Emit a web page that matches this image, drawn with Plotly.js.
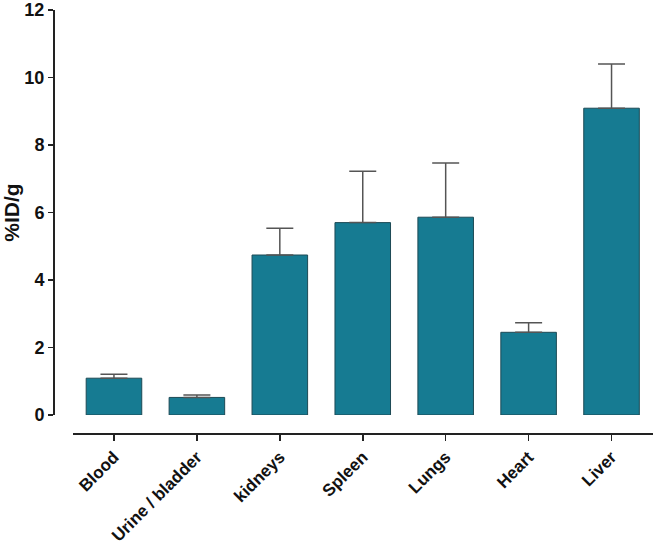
<!DOCTYPE html>
<html>
<head>
<meta charset="utf-8">
<script src="https://cdn.plot.ly/plotly-3.0.1.min.js"></script>
<style>html,body{margin:0;padding:0;background:#fff;}#chart{width:653px;height:547px;}</style>
</head>
<body>
<div id="chart"></div>
<script>
var categories = ["Blood", "Urine / bladder", "kidneys", "Spleen", "Lungs", "Heart", "Liver"];
var means = [1.09, 0.52, 4.74, 5.70, 5.86, 2.45, 9.09];
var errorsUp = [0.12, 0.07, 0.79, 1.52, 1.61, 0.28, 1.31];
var yTickVals = [0, 2, 4, 6, 8, 10, 12];

var trace = {
  type: "bar",
  x: categories,
  y: means,
  width: 0.67,
  marker: {color: "#167b92", line: {color: "#1d4a55", width: 1}},
  error_y: {type: "data", array: errorsUp, arrayminus: errorsUp.map(function(){return 0;}), symmetric: false,
            color: "#555555", thickness: 1.5, width: 13.5},
  hoverinfo: "skip"
};

var fam = "Liberation Sans, Arial, sans-serif";

var layout = {
  width: 653, height: 547,
  margin: {l: 53, r: 0, t: 10, b: 114},
  paper_bgcolor: "#fff", plot_bgcolor: "#fff",
  showlegend: false,
  font: {family: fam, color: "#111", size: 18},
  xaxis: {
    domain: [0.0325, 1],
    anchor: "free", position: 0,
    range: [-0.5, 6.5],
    showline: true, linecolor: "#222", linewidth: 1.5,
    ticks: "outside", ticklen: 6, tickwidth: 1.5, tickcolor: "#222",
    tickangle: -45,
    tickfont: {family: fam, size: 17, weight: "bold", color: "#111"},
    showgrid: false, zeroline: false, fixedrange: true
  },
  yaxis: {
    domain: [0.0426, 1],
    anchor: "free", position: 0,
    range: [0, 12],
    tickvals: yTickVals,
    ticktext: yTickVals.map(String),
    showline: true, linecolor: "#222", linewidth: 1.5,
    ticks: "outside", ticklen: 5, tickwidth: 1.5, tickcolor: "#222",
    tickfont: {family: fam, size: 18, weight: "bold", color: "#111"},
    title: {text: "%ID/g", standoff: 6, font: {family: fam, size: 21, weight: "bold", color: "#111"}},
    showgrid: false, zeroline: false, fixedrange: true
  },
  bargap: 0.33
};

Plotly.newPlot("chart", [trace], layout, {displayModeBar: false, staticPlot: true});
</script>
</body>
</html>
